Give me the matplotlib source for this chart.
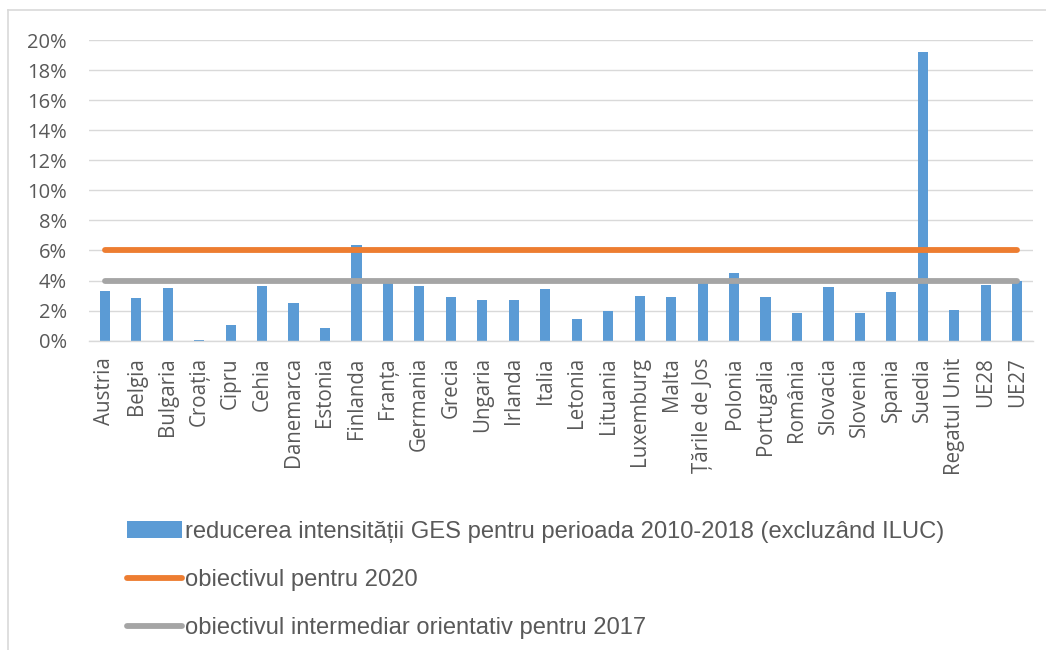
import matplotlib
matplotlib.use("Agg")
import matplotlib.pyplot as plt
from matplotlib.ticker import FuncFormatter, MultipleLocator
from matplotlib.lines import Line2D

countries = ["Austria", "Belgia", "Bulgaria", "Croația", "Cipru", "Cehia", "Danemarca",
             "Estonia", "Finlanda", "Franța", "Germania", "Grecia", "Ungaria", "Irlanda",
             "Italia", "Letonia", "Lituania", "Luxemburg", "Malta", "Țările de Jos",
             "Polonia", "Portugalia", "România", "Slovacia", "Slovenia", "Spania",
             "Suedia", "Regatul Unit", "UE28", "UE27"]
reduction = [3.31, 2.84, 3.49, 0.04, 1.02, 3.67, 2.51, 0.84, 6.36, 3.9, 3.64, 2.91,
             2.71, 2.69, 3.42, 1.44, 1.98, 2.98, 2.91, 3.95, 4.51, 2.89, 1.87, 3.6,
             1.84, 3.27, 19.2, 2.07, 3.73, 3.96]
target_2020 = [6.0] * len(countries)
target_2017 = [4.0] * len(countries)

label_bar = "reducerea intensității GES pentru perioada 2010-2018 (excluzând ILUC)"
label_2020 = "obiectivul pentru 2020"
label_2017 = "obiectivul intermediar orientativ pentru 2017"

BLUE = "#5B9BD5"
ORANGE = "#ED7D31"
GREY = "#A5A5A5"
TXT = "#595959"
GRID = "#D9D9D9"

W, H = 1046, 650
fig = plt.figure(figsize=(W / 100, H / 100), dpi=100)
ax = fig.add_axes([89 / W, 1 - 340.7 / H, (1033 - 89) / W, (340.7 - 40) / H])

x = list(range(len(countries)))
bars = ax.bar(x, reduction, width=0.32, color=BLUE, zorder=2)
l1, = ax.plot(x, target_2020, color=ORANGE, lw=4.2, solid_capstyle="round", zorder=3)
l2, = ax.plot(x, target_2017, color=GREY, lw=4.2, solid_capstyle="round", zorder=3)

ax.set_xlim(-0.5, len(countries) - 0.5)
ax.set_ylim(0, 20)
ax.yaxis.set_major_locator(MultipleLocator(2))
ax.yaxis.set_major_formatter(FuncFormatter(lambda v, p: f"{v:.0f}%"))
ax.grid(axis="y", color=GRID, lw=1.0, zorder=0)
ax.set_axisbelow(True)
for s in ["top", "right", "left"]:
    ax.spines[s].set_visible(False)
ax.spines["bottom"].set_color(GRID)
ax.spines["bottom"].set_linewidth(1.0)

ax.set_xticks(x)
ax.set_xticklabels(countries, rotation=90, fontfamily="Open Sans", fontsize=14.8, color=TXT)
ax.tick_params(axis="x", length=0, pad=12)
ax.tick_params(axis="y", length=0, pad=16, labelsize=14.5, labelcolor=TXT)
for t in ax.get_yticklabels():
    t.set_fontfamily("Open Sans")

leg = fig.legend([bars, l1, l2], [label_bar, label_2020, label_2017],
                 loc="upper left", bbox_to_anchor=(127 / W, 1 - 521 / H),
                 frameon=False, prop={"family": "Liberation Sans", "size": 17.1},
                 labelcolor=TXT, handlelength=2.33, handletextpad=0.13,
                 labelspacing=1.1, borderaxespad=0, borderpad=0)

# outer chart border (left and top visible)
fig.add_artist(Line2D([8 / W, 8 / W], [0, 1 - 10 / H], color=GRID, lw=1.2))
fig.add_artist(Line2D([8 / W, 1], [1 - 10 / H, 1 - 10 / H], color=GRID, lw=1.2))

fig.savefig("out.png", dpi=100)
